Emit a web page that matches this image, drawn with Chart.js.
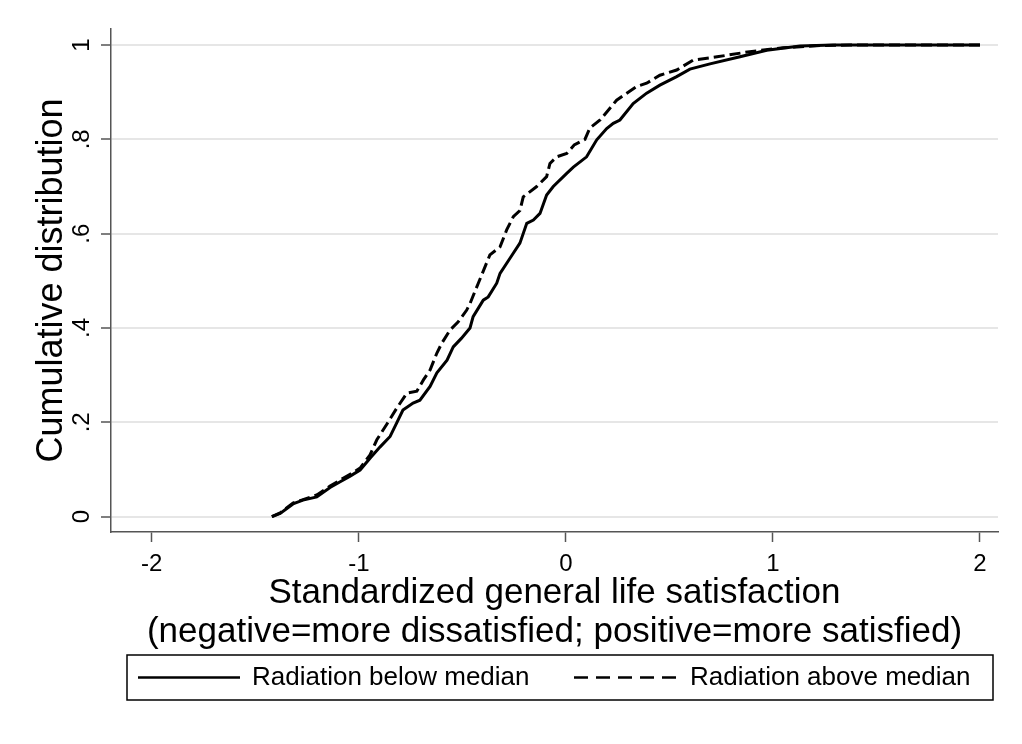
<!DOCTYPE html>
<html><head><meta charset="utf-8">
<script src="https://cdn.jsdelivr.net/npm/chart.js@4/dist/chart.umd.min.js"></script>
<style>html,body{margin:0;padding:0;background:#fff;} canvas{display:block;}</style>
</head><body>
<canvas id="c" width="1022" height="744"></canvas>
<script>
const belowX = [-1.42, -1.38, -1.318, -1.27, -1.203, -1.139, -1.09, -1.042, -0.994, -0.946, -0.897, -0.849, -0.817, -0.787, -0.738, -0.705, -0.656, -0.623, -0.574, -0.544, -0.505, -0.463, -0.448, -0.399, -0.375, -0.334, -0.318, -0.27, -0.222, -0.189, -0.157, -0.125, -0.093, -0.061, 0.004, 0.036, 0.1, 0.149, 0.197, 0.229, 0.261, 0.325, 0.39, 0.454, 0.535, 0.599, 0.696, 0.841, 0.97, 1.131, 1.29, 2.0];
const belowY = [0, 0.007, 0.027, 0.035, 0.042, 0.062, 0.074, 0.086, 0.099, 0.124, 0.148, 0.17, 0.199, 0.226, 0.241, 0.247, 0.276, 0.305, 0.332, 0.36, 0.378, 0.4, 0.424, 0.459, 0.466, 0.495, 0.516, 0.548, 0.58, 0.622, 0.629, 0.643, 0.682, 0.7, 0.728, 0.741, 0.763, 0.799, 0.823, 0.834, 0.841, 0.876, 0.898, 0.915, 0.933, 0.949, 0.96, 0.975, 0.989, 0.998, 1.0, 1.0];
const aboveX = [-1.42, -1.38, -1.318, -1.203, -1.139, -1.042, -0.994, -0.946, -0.913, -0.865, -0.817, -0.768, -0.72, -0.688, -0.656, -0.623, -0.599, -0.559, -0.52, -0.479, -0.463, -0.423, -0.367, -0.318, -0.286, -0.254, -0.222, -0.206, -0.141, -0.093, -0.077, -0.044, 0.004, 0.04, 0.092, 0.116, 0.165, 0.245, 0.342, 0.39, 0.454, 0.535, 0.614, 0.73, 0.888, 1.048, 1.227, 1.371, 2.0];
const aboveY = [0, 0.008, 0.029, 0.046, 0.065, 0.09, 0.103, 0.131, 0.163, 0.196, 0.23, 0.262, 0.266, 0.29, 0.311, 0.347, 0.368, 0.396, 0.413, 0.438, 0.452, 0.495, 0.555, 0.572, 0.608, 0.636, 0.649, 0.678, 0.7, 0.721, 0.749, 0.763, 0.77, 0.788, 0.8, 0.824, 0.841, 0.883, 0.912, 0.919, 0.936, 0.947, 0.968, 0.975, 0.986, 0.994, 0.999, 1.0, 1.0];
const xTickValues = [-2, -1, 0, 1, 2];
const xTickLabels = ['-2', '-1', '0', '1', '2'];
const yTickValues = [0, 0.2, 0.4, 0.6, 0.8, 1];
const yTickLabels = ['0', '.2', '.4', '.6', '.8', '1'];
const seriesLabels = ['Radiation below median', 'Radiation above median'];
const xTitle = ['Standardized general life satisfaction', '(negative=more dissatisfied; positive=more satisfied)'];
const yTitle = 'Cumulative distribution';

const FONT = "'Liberation Sans', Arial, Helvetica, sans-serif";
const toPoints = (xs, ys) => xs.map((x, i) => ({x: x, y: ys[i]}));

const whiteBg = {
  id: 'whiteBg',
  beforeDraw(chart) {
    const c = chart.ctx; c.save(); c.fillStyle = '#fff'; c.fillRect(0, 0, chart.width, chart.height); c.restore();
  }
};

const legendBox = {
  id: 'legendBox',
  afterDraw(chart) {
    const ctx = chart.ctx;
    const ds = chart.data.datasets;
    const boxL = 127, boxR = 993, boxT = 655, boxB = 700;
    const cy = (boxT + boxB) / 2;
    const items = [{x: 138, tx: 252, dash: []}, {x: 574, tx: 690, dash: [14, 8]}];
    ctx.save();
    ctx.strokeStyle = '#000';
    ctx.lineWidth = 1.5;
    ctx.strokeRect(boxL, boxT, boxR - boxL, boxB - boxT);
    ds.forEach((d, i) => {
      const it = items[i];
      ctx.beginPath();
      ctx.setLineDash(it.dash);
      ctx.lineWidth = 2.5;
      ctx.strokeStyle = d.borderColor;
      ctx.moveTo(it.x, cy);
      ctx.lineTo(it.x + 102, cy);
      ctx.stroke();
      ctx.setLineDash([]);
      ctx.fillStyle = '#000';
      ctx.font = '26px ' + FONT;
      ctx.textBaseline = 'middle';
      ctx.textAlign = 'left';
      ctx.fillText(d.label, it.tx, cy);
    });
    ctx.restore();
  }
};

new Chart(document.getElementById('c'), {
  type: 'line',
  data: {
    datasets: [
      {label: seriesLabels[0], data: toPoints(belowX, belowY), borderColor: '#000', borderWidth: 3, pointRadius: 0, fill: false, tension: 0},
      {label: seriesLabels[1], data: toPoints(aboveX, aboveY), borderColor: '#000', borderWidth: 3, borderDash: [11, 5], pointRadius: 0, fill: false, tension: 0}
    ]
  },
  options: {
    responsive: false,
    animation: false,
    devicePixelRatio: 1,
    layout: {padding: {left: 0, right: 24, top: 29, bottom: 92}},
    plugins: {legend: {display: false}, tooltip: {enabled: false}},
    scales: {
      x: {
        type: 'linear', min: -2.197, max: 2.087,
        afterBuildTicks: s => { s.ticks = xTickValues.map(v => ({value: v})); },
        afterFit: s => { s.height = 120; },
        grid: {drawOnChartArea: false, drawTicks: true, tickLength: 10, tickColor: '#555', tickWidth: 1.5},
        border: {display: true, color: '#555', width: 1.5},
        ticks: {
          callback: (v) => { const k = xTickValues.indexOf(v); return k >= 0 ? xTickLabels[k] : ''; },
          font: {family: FONT, size: 24}, color: '#000', padding: 8, maxRotation: 0, minRotation: 0, autoSkip: false
        },
        title: {display: true, text: xTitle, font: {family: FONT, size: 35, lineHeight: 1.114}, color: '#000', padding: {top: 0, bottom: 0}}
      },
      y: {
        type: 'linear', min: -0.0325, max: 1.034,
        afterBuildTicks: s => { s.ticks = yTickValues.map(v => ({value: v})); },
        afterFit: s => { s.width = 111; },
        grid: {drawOnChartArea: true, drawTicks: true, color: '#e6e6e6', lineWidth: 2, tickLength: 10, tickColor: '#555', tickWidth: 1.5},
        border: {display: true, color: '#555', width: 1.5},
        ticks: {
          callback: (v) => { const k = yTickValues.indexOf(v); return k >= 0 ? yTickLabels[k] : ''; },
          font: {family: FONT, size: 24}, color: '#000', padding: 9, minRotation: 90, maxRotation: 90, crossAlign: 'center', autoSkip: false
        },
        title: {display: true, text: yTitle, font: {family: FONT, size: 36, lineHeight: 1.1}, color: '#000', padding: {top: 32, bottom: 0}}
      }
    }
  },
  plugins: [whiteBg, legendBox]
});
</script>
</body></html>
